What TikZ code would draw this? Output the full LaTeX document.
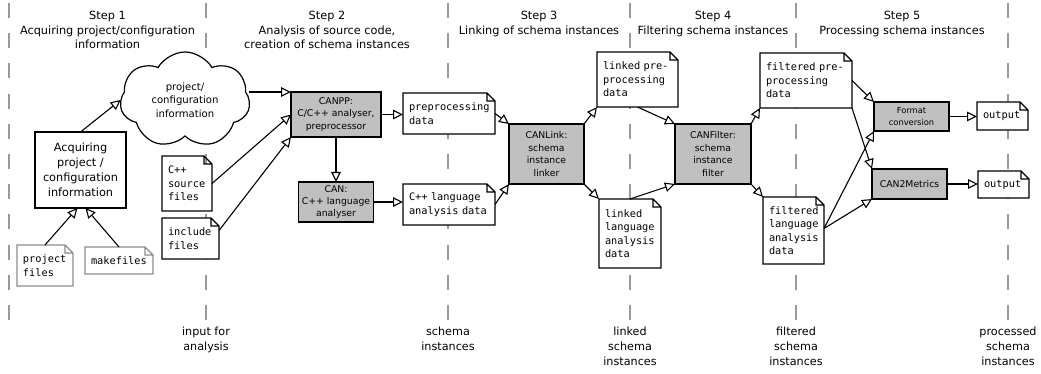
\documentclass[tikz,border=0pt]{standalone}
\usepackage{fontspec}
\setmainfont{DejaVu Sans}
\setmonofont{DejaVu Sans Mono}
\usetikzlibrary{shapes.symbols,arrows.meta,calc}
\pgfdeclarelayer{bg}
\pgfdeclarelayer{paper}
\pgfsetlayers{bg,paper,main}
\definecolor{procgray}{HTML}{C0C0C0}
\definecolor{sepgray}{HTML}{9A9A9A}
\definecolor{srcgray}{HTML}{8C8C8C}

\begin{document}
\begin{tikzpicture}[x=1pt,y=-1pt,
  every node/.style={inner sep=0pt, outer sep=0pt},
  hdr/.style={anchor=north, align=center, font=\fontsize{11.3}{14.5}\selectfont},
  ftr/.style={anchor=north, align=center, font=\fontsize{11.2}{15}\selectfont},
  sep/.style={draw=sepgray, line width=1.4pt, dash pattern=on 15pt off 15.2pt},
  proc/.style={draw, fill=procgray, line width=1.2pt, align=center,
    font=\fontsize{9.3}{12.4}\selectfont},
  plainbox/.style={draw, fill=white, line width=1.2pt, align=center,
    font=\fontsize{11.3}{15}\selectfont},
  doc/.style={align=left, inner xsep=6pt,
    font=\fontsize{10.3}{13.4}\selectfont\ttfamily},
  docsize/.style n args={3}{minimum width=#1, minimum height=#2, text width=#3},
  docline/.style={draw=black, fill=white, line width=1.2pt, line join=miter},
  srcline/.style={docline, draw=srcgray},
  arr/.style={line width=1.1pt, -{Triangle[open, length=10pt, width=9.5pt, line width=1.1pt]}},
]
\useasboundingbox (0,0) rectangle (1041,374);

% column separators
\begin{pgfonlayer}{bg}
\foreach \x in {9,206,448,630,796,1008}
  \draw[sep] (\x,3) -- (\x,322);
\end{pgfonlayer}

% column headings
\node[hdr] (h1) at (107.5,11.3) {Step 1\\Acquiring project/configuration\\information};
\node[hdr] (h2) at (327,11.3) {Step 2\\Analysis of source code,\\creation of schema instances};
\node[hdr] (h3) at (539,11.3) {Step 3\\Linking of schema instances};
\node[hdr] (h4) at (713,11.3) {Step 4\\Filtering schema instances};
\node[hdr] (h5) at (902,11.3) {Step 5\\Processing schema instances};

% results between the steps
\node[ftr] (f1) at (206,327) {input for\\analysis};
\node[ftr] (f2) at (448,327) {schema\\instances};
\node[ftr] (f3) at (630,327) {linked\\schema\\instances};
\node[ftr] (f4) at (796,327) {filtered\\schema\\instances};
\node[ftr] (f5) at (1008,327) {processed\\schema\\instances};

% step 1
\node[plainbox, minimum width=91, minimum height=76] (acq) at (80.5,170)
  {Acquiring\\project /\\configuration\\information};
\node[cloud, draw, fill=white, line width=1.2pt, cloud puffs=7, cloud puff arc=120,
  aspect=1.35, minimum width=130, minimum height=96, align=center,
  font=\fontsize{10.1}{13.4}\selectfont] (cloud) at (185,100)
  {project/\\configuration\\information};
\node[doc, docsize={56}{41}{44}] (projf) at (45,265.5) {project\\files};
\node[doc, docsize={68}{27}{56}] (makef) at (119,260.5) {makefiles};

% step 2
\node[doc, docsize={50}{55}{38}] (cppsrc) at (187,183.5) {C++\\source\\files};
\node[doc, docsize={57}{41}{45}] (incl) at (190.5,238.5) {include\\files};
\node[proc, minimum width=90, minimum height=45] (canpp) at (336,114.5)
  {CANPP:\\C/C++ analyser,\\preprocessor};
\node[proc, minimum width=75, minimum height=40] (can) at (336,202)
  {CAN:\\C++ language\\analyser};
\node[doc, docsize={92}{41}{80}] (ppdata) at (449,113.5) {preprocessing\\data};
\node[doc, docsize={92}{41}{80}] (cppdata) at (449,204.5) {C++ language\\analysis data};

% step 3
\node[proc, minimum width=75, minimum height=60] (canlink) at (546.5,154)
  {CANLink:\\schema\\instance\\linker};
\node[doc, docsize={81}{55}{69}] (lpp) at (637.5,79.5) {linked pre-\\processing\\data};
\node[doc, docsize={62}{69}{50}] (llang) at (630,233.5) {linked\\language\\analysis\\data};

% step 4
\node[proc, minimum width=76, minimum height=60] (canfilter) at (713,154)
  {CANFilter:\\schema\\instance\\filter};
\node[doc, docsize={92}{55}{80}] (fpp) at (806,80.5) {filtered pre-\\processing\\data};
\node[doc, docsize={61}{67}{49}] (flang) at (793.5,230.5) {filtered\\language\\analysis\\data};

% step 5
\node[proc, minimum width=75, minimum height=29, font=\fontsize{8.3}{11.5}\selectfont]
  (fmt) at (911.5,116.5) {Format\\conversion};
\node[proc, minimum width=75, minimum height=30] (metrics) at (909.5,184) {CAN2Metrics};
\node[doc, docsize={51}{28}{39}] (out1) at (1002.5,116) {output};
\node[doc, docsize={51}{27}{39}] (out2) at (1003.5,184.5) {output};

% sheets of paper with a folded corner
\begin{pgfonlayer}{paper}
\foreach \d/\s in {projf/srcline,makef/srcline,cppsrc/docline,incl/docline,
    ppdata/docline,cppdata/docline,lpp/docline,llang/docline,fpp/docline,
    flang/docline,out1/docline,out2/docline}
  \draw[\s] (\d.north west) -- ([xshift=-8pt]\d.north east)
    -- ([yshift=-8pt]\d.north east) -- (\d.south east) -- (\d.south west) -- cycle
    ([xshift=-8pt]\d.north east) |- ([yshift=-8pt]\d.north east);
\end{pgfonlayer}

% data flow
\draw[arr] (acq.north) -- (cloud.west);
\draw[arr] (projf.north) -- ([xshift=-3pt]acq.south);
\draw[arr] (makef.north) -- ([xshift=5pt]acq.south);

\draw[arr] (cloud.east |- canpp.north west) -- (canpp.north west);
\draw[arr] (cppsrc.east) -- (canpp.west);
\draw[arr] ([yshift=8pt]incl.east) -- (canpp.south west);
\draw[arr] (canpp.south) -- (canpp.south |- can.north);
\draw[arr] (canpp.east) -- (canpp.east -| ppdata.west);
\draw[arr] (can.east) -- (can.east -| cppdata.west);

\draw[arr] (ppdata.east) -- (canlink.north west);
\draw[arr] (cppdata.east) -- (canlink.south west);
\draw[arr] (canlink.north east) -- (lpp.south west);
\draw[arr] (canlink.south east) -- (llang.north west);

\draw[arr] (lpp.south) -- (canfilter.north west);
\draw[arr] (llang.north) -- (canfilter.south west);
\draw[arr] (canfilter.north east) -- (fpp.south west);
\draw[arr] (canfilter.south east) -- (flang.north west);

\draw[arr] (fpp.east) -- (fmt.north west);
\draw[arr] (fpp.south east) -- (metrics.north west);
\draw[arr] ([yshift=2pt]flang.east) -- (fmt.south west);
\draw[arr] ([yshift=2pt]flang.east) -- (metrics.south west);
\draw[arr] (fmt.east) -- (fmt.east -| out1.west);
\draw[arr] (metrics.east) -- (metrics.east -| out2.west);
\end{tikzpicture}
\end{document}
